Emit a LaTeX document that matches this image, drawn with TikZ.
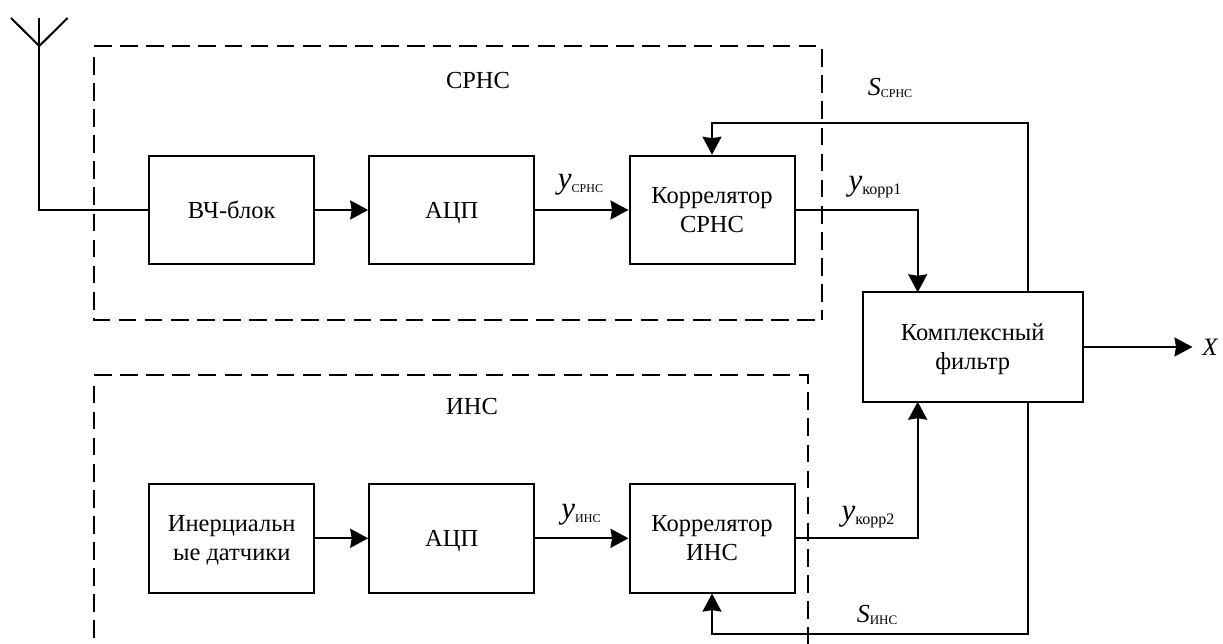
\documentclass[tikz,border=0pt]{standalone}
\usepackage{fontspec}
\setmainfont{Liberation Serif}
\usetikzlibrary{arrows.meta}

\newcommand{\subsmall}{\fontsize{12}{12}\selectfont}
\newcommand{\subbig}{\fontsize{16}{16}\selectfont}
\newcommand{\ysig}[1]{{\fontsize{31}{31}\selectfont\itshape y}\raisebox{-4pt}{#1}}
\newcommand{\ssig}[1]{{\fontsize{26}{26}\selectfont\itshape S}\raisebox{-2pt}{#1}}
\newcommand{\nodepth}[1]{\raisebox{0pt}[\height][0pt]{#1}}

\tikzset{
  blockbox/.style = {draw = black, line width = 2pt, minimum width = 165pt, minimum height = 108.6pt, inner sep = 0pt, align = center, font = \fontsize{24.5}{29}\selectfont},
  filterbox/.style = {blockbox, minimum width = 220pt, minimum height = 109.4pt},
  framebox/.style = {draw = black, line width = 2pt, dash pattern = on 17.7pt off 8.4pt},
  wire/.style = {draw = black, line width = 2pt},
  signal/.style = {wire, -{Stealth[inset = 1.5pt, length = 18pt, width = 19pt]}},
  caption/.style = {inner sep = 0pt, font = \fontsize{24.5}{29}\selectfont}
}

\begin{document}
\begin{tikzpicture}[x = 1pt, y = -1pt]
\useasboundingbox (0, 0) rectangle (1223, 644);

\path [framebox] (94, 46.5) -- (822, 46.5) -- (822, 319.5);
\path [framebox] (94, 57) -- (94, 319.5) -- (822, 319.5);
\path [framebox] (94, 375) -- (807.5, 375) -- (807.5, 644);
\path [framebox] (94, 385.5) -- (94, 644);
\node [caption] (srnscap) at (478, 81) {СРНС};
\node [caption] (inscap) at (472, 407) {ИНС};

\node [blockbox] (hf) at (231.7, 210) {ВЧ-блок};
\node [blockbox] (adc1) at (451.7, 210) {\nodepth{АЦП}};
\node [blockbox] (corr1) at (712, 210) {Коррелятор\\СРНС};
\node [blockbox] (sens) at (231.7, 538.3) {Инерциальн\\\nodepth{ые датчики}};
\node [blockbox] (adc2) at (451.7, 538.3) {\nodepth{АЦП}};
\node [blockbox] (corr2) at (712, 538.3) {Коррелятор\\ИНС};
\node [filterbox] (filter) at (972.7, 347) {Комплексный\\\nodepth{фильтр}};

\coordinate (anttop) at (39.3, 18);
\coordinate (antbase) at (39.3, 46);
\coordinate (antleft) at (11, 18);
\coordinate (antright) at (67.6, 18);
\path [wire] (antleft) -- (antbase) -- (antright);
\path [wire] (anttop) -- (antbase) |- (hf.west);

\path [signal] (hf) -- (adc1);
\path [signal] (adc1) -- (corr1);
\path [signal] (sens) -- (adc2);
\path [signal] (adc2) -- (corr2);

\coordinate (fbtop) at (1027.7, 292.3);
\coordinate (fbtopturn) at (1027.7, 122.7);
\coordinate (fbbot) at (1027.7, 401.7);
\coordinate (fbbotturn) at (1027.7, 634.3);
\path [signal] (fbtop) -- (fbtopturn) -| (corr1.north);
\path [signal] (fbbot) -- (fbbotturn) -| (corr2.south);

\coordinate (in1) at (917.7, 292.3);
\coordinate (in2) at (917.7, 401.7);
\path [signal] (corr1.east) -| (in1);
\path [signal] (corr2.east) -| (in2);

\node [caption] (xout) at (1210, 347) {\fontsize{25}{25}\selectfont\itshape X};
\coordinate (xtip) at (1192.5, 347);
\path [signal] (filter.east) -- (xtip);

\node [caption, anchor = base] (ysrns) at (580.5, 188.5) {\ysig{\subsmall СРНС}};
\node [caption, anchor = base] (yins) at (581, 518) {\ysig{\subsmall ИНС}};
\node [caption, anchor = base] (ycorr1) at (875, 190.5) {\ysig{\subbig корр1}};
\node [caption, anchor = base] (ycorr2) at (868, 520.5) {\ysig{\subbig корр2}};
\node [caption, anchor = base] (ssrns) at (890, 96) {\ssig{\subsmall СРНС}};
\node [caption, anchor = base] (sins) at (877, 622) {\ssig{\fontsize{13}{13}\selectfont ИНС}};
\end{tikzpicture}
\end{document}
